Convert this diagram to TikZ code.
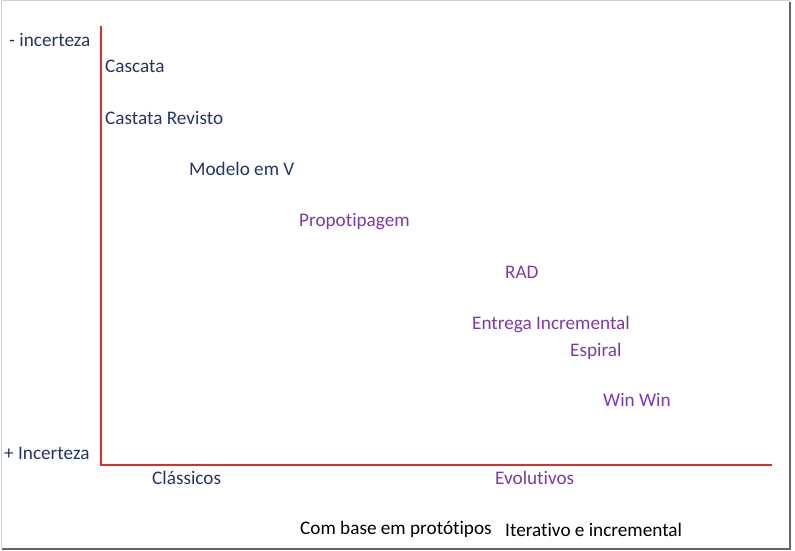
\documentclass[tikz,border=0pt]{standalone}
\usepackage{fontspec}
\setmainfont[Ligatures=NoCommon]{Carlito}
\usetikzlibrary{positioning}
\definecolor{navy}{RGB}{36,52,104}
\definecolor{lilac}{RGB}{122,58,172}
\definecolor{axisred}{RGB}{214,48,44}

\begin{document}
\begin{tikzpicture}[x=1pt,y=-1pt,
    lbl/.style={anchor=base west,inner sep=0pt,font=\fontsize{19.2}{23}\selectfont},
    classic/.style={lbl,text=navy},
    evol/.style={lbl,text=lilac},
    plain/.style={lbl,text=black}]
  \useasboundingbox (0,0) rectangle (795,551);
  % frame
  \draw[gray!35,line width=1pt] (1,1) rectangle (789,548);
  \draw[gray!80!black,line width=2pt] (790,2) -- (790,549) -- (2,549);

  % axes
  \coordinate (top) at (101,26);
  \coordinate (orig) at (101,465);
  \coordinate (right) at (772,465);
  \draw[axisred,line width=1.2pt] (top) -- (orig) -- (right);

  \node[classic] (lessinc) at (9,47) {- incerteza};
  \node[classic] (moreinc) at (4,459) {+ Incerteza};

  \node[classic] (cascata) at (105,73) {Cascata};
  \node[classic] (revisto) at (105,124) {Castata Revisto};
  \node[classic] (modelov) at (189,175) {Modelo em V};
  \node[evol] (proto) at (299,226) {Propotipagem};
  \node[evol] (rad) at (505,278) {RAD};
  \node[evol] (entrega) at (472,329) {Entrega Incremental};
  \node[evol] (espiral) at (570,356) {Espiral};
  \node[evol] (winwin) at (603,406) {Win Win};

  \node[classic] (classicos) at (152,484) {Clássicos};
  \node[evol] (evolutivos) at (495,484) {Evolutivos};

  \node[plain] (combase) at (300,534) {Com base em protótipos};
  \node[plain] (iterativo) at (505,536) {Iterativo e incremental};
\end{tikzpicture}
\end{document}
